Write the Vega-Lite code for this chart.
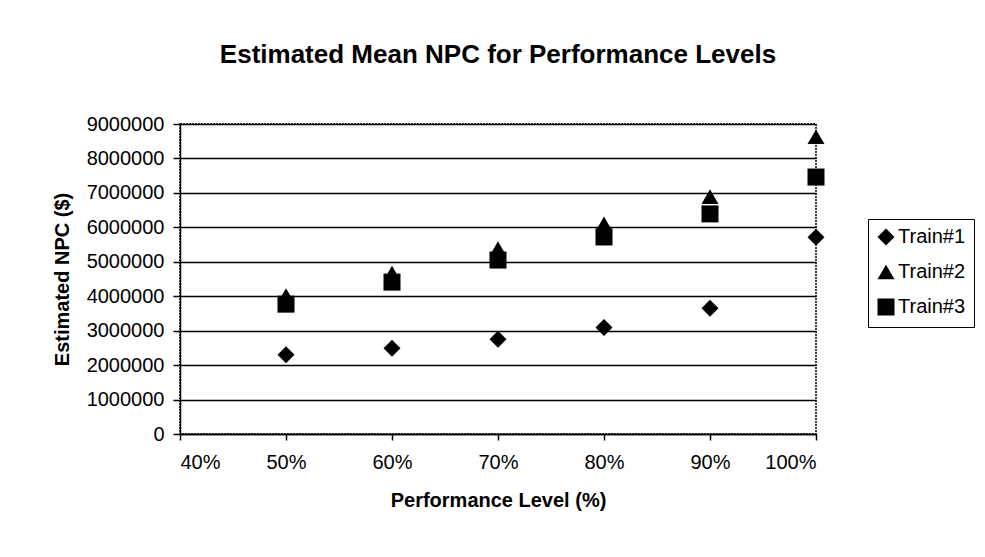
{
  "$schema": "https://vega.github.io/schema/vega-lite/v6.json",
  "width": 636,
  "height": 310,
  "autosize": {"type": "none"},
  "padding": {"left": 180, "top": 124, "right": 169, "bottom": 123},
  "background": "white",
  "title": {
    "text": "Estimated Mean NPC for Performance Levels",
    "font": "Liberation Sans",
    "fontSize": 26,
    "fontWeight": "bold",
    "color": "black",
    "offset": 46,
    "anchor": "middle"
  },
  "data": {
    "values": [
      {"level": 0.5, "npc": 2300000, "series": "Train#1"},
      {"level": 0.6, "npc": 2490000, "series": "Train#1"},
      {"level": 0.7, "npc": 2750000, "series": "Train#1"},
      {"level": 0.8, "npc": 3090000, "series": "Train#1"},
      {"level": 0.9, "npc": 3650000, "series": "Train#1"},
      {"level": 1.0, "npc": 5710000, "series": "Train#1"},
      {"level": 0.5, "npc": 4020000, "series": "Train#2"},
      {"level": 0.6, "npc": 4670000, "series": "Train#2"},
      {"level": 0.7, "npc": 5380000, "series": "Train#2"},
      {"level": 0.8, "npc": 6100000, "series": "Train#2"},
      {"level": 0.9, "npc": 6890000, "series": "Train#2"},
      {"level": 1.0, "npc": 8630000, "series": "Train#2"},
      {"level": 0.5, "npc": 3770000, "series": "Train#3"},
      {"level": 0.6, "npc": 4410000, "series": "Train#3"},
      {"level": 0.7, "npc": 5050000, "series": "Train#3"},
      {"level": 0.8, "npc": 5720000, "series": "Train#3"},
      {"level": 0.9, "npc": 6390000, "series": "Train#3"},
      {"level": 1.0, "npc": 7460000, "series": "Train#3"}
    ]
  },
  "mark": {"type": "point", "filled": true, "opacity": 1, "size": 289, "clip": false},
  "encoding": {
    "x": {
      "field": "level",
      "type": "quantitative",
      "scale": {"domain": [0.4, 1.0], "nice": false, "zero": false},
      "axis": {
        "title": "Performance Level (%)",
        "format": ".0%",
        "values": [0.4, 0.5, 0.6, 0.7, 0.8, 0.9, 1.0],
        "grid": false,
        "tickSize": 6,
        "labelPadding": 12,
        "titlePadding": 18
      }
    },
    "y": {
      "field": "npc",
      "type": "quantitative",
      "scale": {"domain": [0, 9000000], "nice": false},
      "axis": {
        "title": "Estimated NPC ($)",
        "format": "d",
        "values": [0, 1000000, 2000000, 3000000, 4000000, 5000000, 6000000, 7000000, 8000000, 9000000],
        "grid": true,
        "tickSize": 7,
        "labelPadding": 9,
        "titlePadding": 14
      }
    },
    "shape": {
      "field": "series",
      "type": "nominal",
      "scale": {"domain": ["Train#1", "Train#2", "Train#3"], "range": ["diamond", "triangle-up", "square"]},
      "legend": {
        "title": null,
        "orient": "none",
        "legendX": 688,
        "legendY": 95,
        "strokeColor": "black",
        "padding": 8,
        "symbolFillColor": "black",
        "symbolStrokeColor": "black",
        "symbolSize": 289,
        "labelFontSize": 20,
        "labelFont": "Liberation Sans",
        "labelColor": "black",
        "rowPadding": 12,
        "symbolOffset": 0,
        "labelOffset": 2
      }
    },
    "color": {"value": "black"}
  },
  "config": {
    "view": {"stroke": "black", "strokeWidth": 1.5, "strokeDash": [2, 1]},
    "axis": {
      "domainColor": "black",
      "domainWidth": 1.5,
      "tickColor": "black",
      "tickWidth": 1.5,
      "gridColor": "black",
      "gridWidth": 1.5,
      "gridOpacity": 1,
      "labelFont": "Liberation Sans",
      "labelFontSize": 20,
      "labelColor": "black",
      "titleFont": "Liberation Sans",
      "titleFontSize": 20,
      "titleFontWeight": "bold",
      "titleColor": "black"
    }
  }
}
